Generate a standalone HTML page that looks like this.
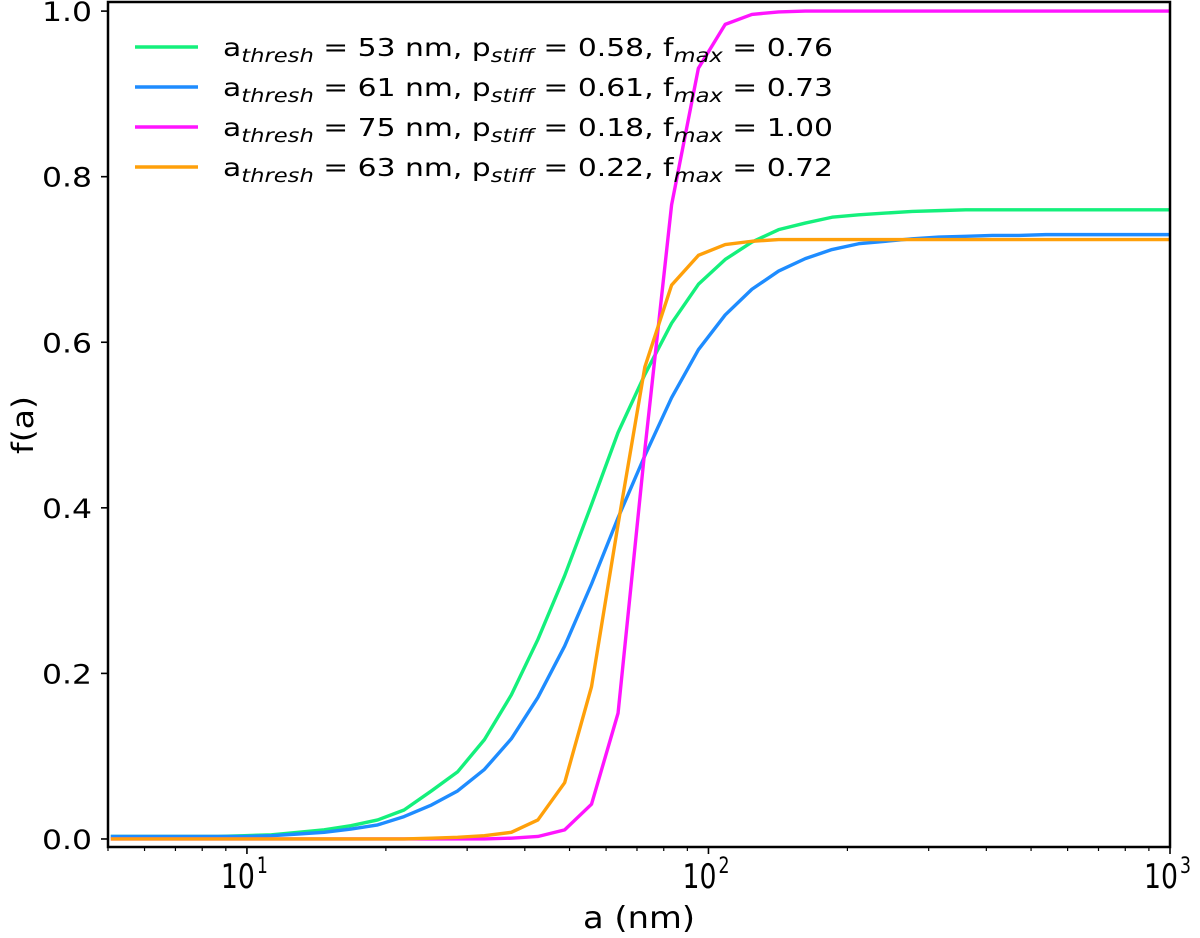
<!DOCTYPE html>
<html><head><meta charset="utf-8"><style>
html,body{margin:0;padding:0;background:#fff;}
svg{display:block;font-family:"DejaVu Sans","Liberation Sans",sans-serif;}
</style></head><body>
<svg id="chart" width="1200" height="938" viewBox="0 0 1200 938" xmlns="http://www.w3.org/2000/svg">
<g id="plot"></g>
<g id="axes"></g>
<g id="legend"></g>
<text x="639" y="928" font-size="30" text-anchor="middle" textLength="112" lengthAdjust="spacingAndGlyphs">a (nm)</text>
<text x="0" y="0" font-size="29" text-anchor="middle" textLength="58" lengthAdjust="spacingAndGlyphs" transform="translate(33,425) rotate(-90)">f(a)</text>
</svg>
<script>
const aValues = [5.07,5.79,6.62,7.56,8.64,9.87,11.3,12.9,14.7,16.8,19.2,21.9,25.1,28.6,32.7,37.4,42.7,48.8,55.8,63.7,72.8,83.2,95.1,108.7,124.2,141.9,162.1,185.2,211.6,241.8,276.3,315.7,360.7,412.2,470.9,538.1,614.8,702.5,802.7,917.1,1000];
const greenValues = [0.003,0.003,0.003,0.003,0.003,0.004,0.005,0.008,0.011,0.016,0.023,0.035,0.058,0.081,0.120,0.174,0.241,0.318,0.404,0.491,0.561,0.623,0.670,0.700,0.721,0.736,0.744,0.751,0.754,0.756,0.758,0.759,0.760,0.760,0.760,0.760,0.760,0.760,0.760,0.760,0.760];
const blueValues = [0.003,0.003,0.003,0.003,0.003,0.003,0.004,0.006,0.008,0.012,0.017,0.027,0.041,0.058,0.084,0.121,0.171,0.233,0.308,0.388,0.463,0.533,0.591,0.633,0.664,0.686,0.701,0.712,0.719,0.722,0.725,0.727,0.728,0.729,0.729,0.730,0.730,0.730,0.730,0.730,0.730];
const magentaValues = [0,0,0,0,0,0,0,0,0,0,0,0,0,0,0,0.001,0.003,0.011,0.042,0.152,0.47,0.766,0.931,0.984,0.996,0.999,1,1,1,1,1,1,1,1,1,1,1,1,1,1,1];
const orangeValues = [0,0,0,0,0,0,0,0,0,0,0,0,0.001,0.002,0.004,0.008,0.023,0.068,0.184,0.38,0.57,0.669,0.705,0.718,0.722,0.724,0.724,0.724,0.724,0.724,0.724,0.724,0.724,0.724,0.724,0.724,0.724,0.724,0.724,0.724,0.724];
const seriesNames = ["green","blue","magenta","orange"];
const seriesColors = ["#14f07c","#1e8cff","#ff14ff","#ffa00a"];
const legendThresh = ["53","61","75","63"];
const legendStiff = ["0.58","0.61","0.18","0.22"];
const legendFmax = ["0.76","0.73","1.00","0.72"];
const yTicks = [0.0,0.2,0.4,0.6,0.8,1.0];
const xMajorTicks = [10,100,1000];
const xMajorLabels = ["1","2","3"];

const L=108,R=1170,T=2,B=847;
const xMin=5,xMax=1000,yMin=-0.0097,yMax=1.011;
function xs(a){return L+(Math.log10(a)-Math.log10(xMin))/(Math.log10(xMax)-Math.log10(xMin))*(R-L);}
function ys(v){return B-(v-yMin)/(yMax-yMin)*(B-T);}
const NS="http://www.w3.org/2000/svg";
function mk(tag,attrs,parent){const e=document.createElementNS(NS,tag);for(const k in attrs)e.setAttribute(k,attrs[k]);if(parent)parent.appendChild(e);return e;}

const plot=document.getElementById('plot');
const allSeries=[greenValues,blueValues,magentaValues,orangeValues];
allSeries.forEach((vals,i)=>{
  const d=vals.map((v,j)=>(j?'L':'M')+xs(aValues[j]).toFixed(2)+','+ys(v).toFixed(2)).join(' ');
  const p=mk('path',{d:d,fill:'none',stroke:seriesColors[i],'stroke-width':3.4,'stroke-linejoin':'round'},plot);
  
  
});

const axes=document.getElementById('axes');
const frame=mk('rect',{x:L,y:T,width:R-L,height:B-T,fill:'none',stroke:'#000','stroke-width':2.5},axes);


yTicks.forEach(v=>{
  const y=ys(v);
  const t=mk('line',{x1:L-7,x2:L,y1:y,y2:y,stroke:'#000','stroke-width':1.6},axes);
  
  
  const lb=mk('text',{x:L-16,y:y+10,'font-size':27,'text-anchor':'end',textLength:50,lengthAdjust:'spacingAndGlyphs'},axes);
  lb.textContent=v.toFixed(1);
  
  
});
for(let dec=1;dec<=100;dec*=10){
  for(let m=1;m<=9;m++){
    const a=dec*m; if(a<xMin||a>xMax) continue;
    const major=(m===1);
    const x=xs(a);
    const t=mk('line',{x1:x,x2:x,y1:B,y2:B+(major?7:4),stroke:'#000','stroke-width':major?1.6:1.2},axes);
    
    
  }
}
xMajorTicks.forEach((a,i)=>{
  const x=xs(a);
  if(i===xMajorTicks.length-1){const t=mk('line',{x1:x,x2:x,y1:B,y2:B+7,stroke:'#000','stroke-width':1.6},axes);
    
    }
  const lb=mk('text',{x:x-26,y:888,'font-size':34},axes);
  
  
  const t1=mk('tspan',{textLength:34,lengthAdjust:'spacingAndGlyphs'},lb); t1.textContent='10';
  const t2=mk('tspan',{dx:2,dy:-15,'font-size':22,textLength:11,lengthAdjust:'spacingAndGlyphs'},lb); t2.textContent=xMajorLabels[i];
});

const lg=document.getElementById('legend');
seriesNames.forEach((n,i)=>{
  const y=47+i*40;
  const ln=mk('line',{x1:135,x2:198,y1:y,y2:y,stroke:seriesColors[i],'stroke-width':3.4},lg);
  
  
  const tx=mk('text',{x:223,y:y+9,'font-size':25,textLength:610,lengthAdjust:'spacingAndGlyphs'},lg);
  
  
  const parts=[['a',0],['thresh',1],[' = '+legendThresh[i]+' nm, p',2],['stiff',1],[' = '+legendStiff[i]+', f',2],['max',1],[' = '+legendFmax[i],2]];
  parts.forEach(p=>{
    const s=mk('tspan',{},tx);
    if(p[1]===1){s.setAttribute('font-style','italic');s.setAttribute('font-size','19');s.setAttribute('dy','6');}
    else if(p[1]===2){s.setAttribute('dy','-6');}
    s.textContent=p[0];
  });
});
</script>
</body></html>
